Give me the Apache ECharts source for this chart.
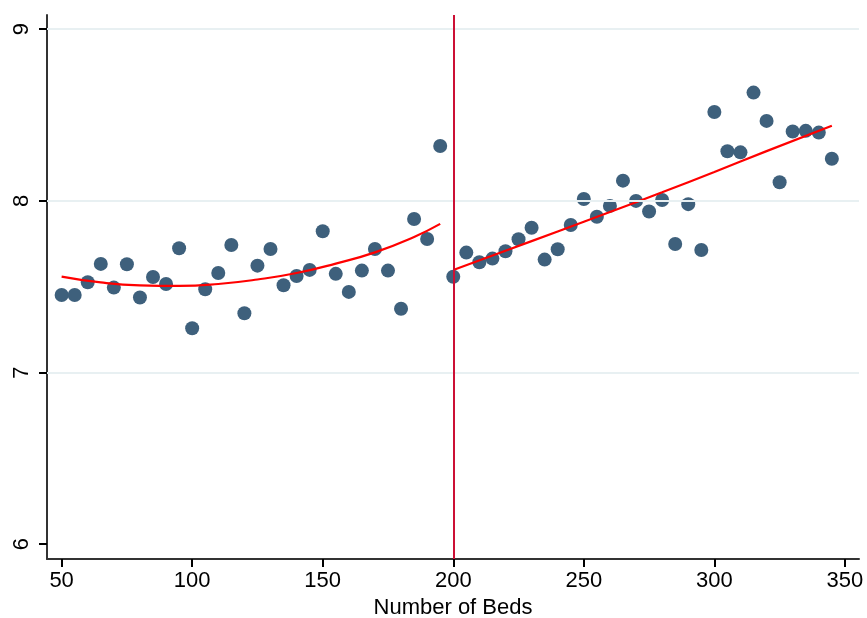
<!DOCTYPE html>
<html>
<head>
<meta charset="utf-8">
<script src="https://cdn.jsdelivr.net/npm/echarts@6/dist/echarts.min.js"></script>
<style>
  html, body { margin: 0; padding: 0; background: #ffffff; }
  #chart { width: 867px; height: 618px; }
</style>
</head>
<body>
<div id="chart"></div>
<script>
// Binned means by number of beds
const beds = [50, 55, 60, 65, 70, 75, 80, 85, 90, 95, 100, 105, 110, 115, 120, 125, 130, 135, 140, 145,
  150, 155, 160, 165, 170, 175, 180, 185, 190, 195, 200, 205, 210, 215, 220, 225, 230, 235, 240, 245,
  250, 255, 260, 265, 270, 275, 280, 285, 290, 295, 300, 305, 310, 315, 320, 325, 330, 335, 340, 345];
const outcome = [7.452, 7.452, 7.526, 7.633, 7.495, 7.631, 7.437, 7.557, 7.516, 7.724,
  7.258, 7.485, 7.580, 7.743, 7.346, 7.623, 7.720, 7.509, 7.563, 7.598,
  7.823, 7.575, 7.470, 7.594, 7.720, 7.594, 7.372, 7.895, 7.778, 8.320,
  7.558, 7.699, 7.643, 7.664, 7.707, 7.777, 7.844, 7.658, 7.718, 7.860,
  8.011, 7.908, 7.971, 8.118, 8.000, 7.938, 8.005, 7.749, 7.981, 7.714,
  8.518, 8.289, 8.283, 8.631, 8.466, 8.109, 8.404, 8.408, 8.398, 8.246];

// Fitted curves on each side of the cutoff
const fitLeftX = [50, 65, 80, 95, 110, 125, 140, 155, 170, 185, 195];
const fitLeftY = [7.559, 7.525, 7.508, 7.505, 7.516, 7.542, 7.580, 7.635, 7.700, 7.790, 7.866];
const fitRightX = [200, 220, 240, 260, 280, 300, 320, 345];
const fitRightY = [7.598, 7.710, 7.822, 7.935, 8.050, 8.168, 8.290, 8.438];

const cutoff = 200;
const xTicks = [50, 100, 150, 200, 250, 300, 350];
const yTicks = [6, 7, 8, 9];
const gridValues = [7, 8, 9];

const FONT = 'Arial, "Liberation Sans", Helvetica, sans-serif';

const points = beds.map((b, i) => [b, outcome[i]]);
const leftFit = fitLeftX.map((x, i) => [x, fitLeftY[i]]);
const rightFit = fitRightX.map((x, i) => [x, fitRightY[i]]);

const chart = echarts.init(document.getElementById('chart'), null, { renderer: 'canvas' });

chart.setOption({
  animation: false,
  backgroundColor: '#ffffff',
  grid: { left: 47, right: 8, top: 15, bottom: 59, containLabel: false, outerBoundsMode: 'none' },
  xAxis: {
    type: 'value',
    min: 44.4,
    max: 355.4,
    name: 'Number of Beds',
    nameLocation: 'middle',
    nameGap: 38,
    nameTextStyle: { fontFamily: FONT, fontSize: 22, color: '#000' },
    axisLine: { show: true, onZero: false, lineStyle: { color: '#333', width: 2 } },
    axisTick: { show: true, length: 8, customValues: xTicks, lineStyle: { color: '#000', width: 2 } },
    axisLabel: { customValues: xTicks, margin: 11, fontFamily: FONT, fontSize: 22, color: '#000' },
    splitLine: { show: false }
  },
  yAxis: {
    type: 'value',
    min: 5.914,
    max: 9.083,
    axisLine: { show: true, onZero: false, lineStyle: { color: '#333', width: 2 } },
    axisTick: { show: true, length: 8, customValues: yTicks, lineStyle: { color: '#000', width: 2 } },
    axisLabel: { customValues: yTicks, rotate: 90, margin: 14, fontFamily: FONT, fontSize: 22, color: '#000' },
    splitLine: { show: false }
  },
  series: [
    {
      // horizontal reference grid at 7, 8, 9
      type: 'scatter',
      data: [],
      z: 0,
      silent: true,
      markLine: {
        silent: true,
        symbol: 'none',
        label: { show: false },
        lineStyle: { color: '#e8f0f2', width: 2, type: 'solid' },
        data: gridValues.map(v => ({ yAxis: v }))
      }
    },
    {
      // cutoff line
      type: 'scatter',
      data: [],
      z: 1,
      silent: true,
      markLine: {
        silent: true,
        symbol: 'none',
        label: { show: false },
        lineStyle: { color: '#cc1035', width: 2, type: 'solid' },
        data: [{ xAxis: cutoff }]
      }
    },
    {
      type: 'scatter',
      data: points,
      symbol: 'circle',
      symbolSize: 14,
      z: 3,
      itemStyle: { color: '#3e607c', opacity: 1 }
    },
    {
      type: 'line',
      data: leftFit,
      smooth: true,
      showSymbol: false,
      z: 4,
      lineStyle: { color: '#ff0000', width: 2.2 }
    },
    {
      type: 'line',
      data: rightFit,
      smooth: true,
      showSymbol: false,
      z: 4,
      lineStyle: { color: '#ff0000', width: 2.2 }
    }
  ]
});
</script>
</body>
</html>
